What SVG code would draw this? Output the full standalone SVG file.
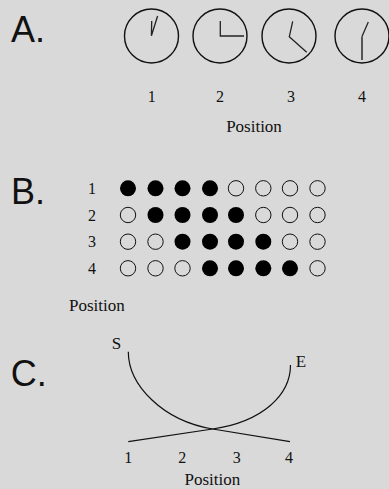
<svg xmlns="http://www.w3.org/2000/svg" width="389" height="489" viewBox="0 0 389 489">
<style>
.big{font-family:'Liberation Sans',Arial,sans-serif;font-size:36px;fill:#111}
.num{font-family:'Liberation Serif','Times New Roman','DejaVu Serif',serif;font-size:16px;fill:#111;text-anchor:middle}
.lab{font-family:'Liberation Serif','Times New Roman','DejaVu Serif',serif;font-size:17px;fill:#111}
.clk{fill:none;stroke:#111;stroke-width:1.4}
.hand{fill:none;stroke:#222;stroke-width:1.3;stroke-linejoin:miter}
.on{fill:#000}
.off{fill:none;stroke:#111;stroke-width:1}
.crv{fill:none;stroke:#111;stroke-width:1.2}
</style>
<rect width="389" height="489" fill="#d9d9d9"/>
<g id="panelA">
<text class="big" x="11" y="42">A.</text>
<g id="clock1"><circle class="clk" cx="151.5" cy="36" r="27"/><polyline class="hand" points="151.7,21 151.4,35.7 157.6,16"/></g>
<g id="clock2"><circle class="clk" cx="220" cy="36" r="27"/><polyline class="hand" points="220.3,21 220.3,36 244,36"/></g>
<g id="clock3"><circle class="clk" cx="289" cy="36" r="27"/><polyline class="hand" points="292.7,21.3 289.3,36.7 306.7,52.3"/></g>
<g id="clock4"><circle class="clk" cx="362" cy="36" r="27"/><polyline class="hand" points="368.3,22 362,36.5"/><line x1="362" y1="36.5" x2="362" y2="60" stroke="#555" stroke-width="2"/></g>
<text class="num" x="151.7" y="102" font-size="17">1</text>
<text class="num" x="220" y="102" font-size="17">2</text>
<text class="num" x="291" y="102" font-size="17">3</text>
<text class="num" x="362" y="102" font-size="17">4</text>
<text class="lab" x="254" y="132" text-anchor="middle" font-family="Liberation Serif, serif">Position</text>
</g>
<g id="panelB">
<text class="big" x="11" y="204">B.</text>
<text class="num" x="92" y="194">1</text>
<text class="num" x="92" y="220.7">2</text>
<text class="num" x="92" y="247.3">3</text>
<text class="num" x="92" y="274">4</text>
<g id="row1">
<circle class="on" cx="128" cy="188.3" r="8"/><circle class="on" cx="155.5" cy="188.3" r="8"/><circle class="on" cx="182.5" cy="188.3" r="8"/><circle class="on" cx="210" cy="188.3" r="8"/><circle class="off" cx="236" cy="188.3" r="7.7"/><circle class="off" cx="263.3" cy="188.3" r="7.7"/><circle class="off" cx="290" cy="188.3" r="7.7"/><circle class="off" cx="317.5" cy="188.3" r="7.7"/>
</g>
<g id="row2">
<circle class="off" cx="128" cy="215" r="7.7"/><circle class="on" cx="155.5" cy="215" r="8"/><circle class="on" cx="182.5" cy="215" r="8"/><circle class="on" cx="210" cy="215" r="8"/><circle class="on" cx="236" cy="215" r="8"/><circle class="off" cx="263.3" cy="215" r="7.7"/><circle class="off" cx="290" cy="215" r="7.7"/><circle class="off" cx="317.5" cy="215" r="7.7"/>
</g>
<g id="row3">
<circle class="off" cx="128" cy="241.7" r="7.7"/><circle class="off" cx="155.5" cy="241.7" r="7.7"/><circle class="on" cx="182.5" cy="241.7" r="8"/><circle class="on" cx="210" cy="241.7" r="8"/><circle class="on" cx="236" cy="241.7" r="8"/><circle class="on" cx="263.3" cy="241.7" r="8"/><circle class="off" cx="290" cy="241.7" r="7.7"/><circle class="off" cx="317.5" cy="241.7" r="7.7"/>
</g>
<g id="row4">
<circle class="off" cx="128" cy="268.3" r="7.7"/><circle class="off" cx="155.5" cy="268.3" r="7.7"/><circle class="off" cx="182.5" cy="268.3" r="7.7"/><circle class="on" cx="210" cy="268.3" r="8"/><circle class="on" cx="236" cy="268.3" r="8"/><circle class="on" cx="263.3" cy="268.3" r="8"/><circle class="on" cx="290" cy="268.3" r="8"/><circle class="off" cx="317.5" cy="268.3" r="7.7"/>
</g>
<text class="lab" x="69" y="310.7">Position</text>
</g>
<g id="panelC">
<text class="big" x="10.7" y="386">C.</text>
<text class="lab" x="111.7" y="349.3">S</text>
<text class="lab" x="295.7" y="366.7">E</text>
<g id="connectors">
<path class="crv" d="M128.3,351.7 C128.3,385 162.7,420.8 212.7,429 L290,441.7"/>
<path class="crv" d="M290.5,365 C290.5,395 262.7,421.5 212.7,429 L128.3,441.7"/>
</g>
<text class="num" x="128.3" y="463.3">1</text>
<text class="num" x="182.3" y="463.3">2</text>
<text class="num" x="236.7" y="463.3">3</text>
<text class="num" x="289" y="463.3">4</text>
<text class="lab" x="212.3" y="485" text-anchor="middle">Position</text>
</g>
</svg>
